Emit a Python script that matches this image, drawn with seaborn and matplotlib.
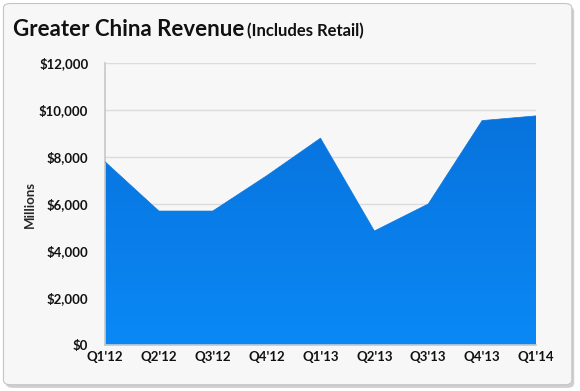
import numpy as np
import pandas as pd
import seaborn as sns
import matplotlib.pyplot as plt
from matplotlib.patches import FancyBboxPatch
from matplotlib.ticker import FuncFormatter
from matplotlib.colors import LinearSegmentedColormap

# chart data
quarters = ["Q1'12", "Q2'12", "Q3'12", "Q4'12", "Q1'13", "Q2'13", "Q3'13", "Q4'13", "Q1'14"]
revenue = [7800, 5700, 5700, 7200, 8800, 4850, 6000, 9550, 9750]
y_ticks = [0, 2000, 4000, 6000, 8000, 10000, 12000]

df = pd.DataFrame({'quarter': quarters, 'revenue': revenue, 'pos': range(len(quarters))})

sns.set_style('white')
plt.rcParams['font.family'] = ['Lato', 'DejaVu Sans']

fig = plt.figure(figsize=(5.8, 3.91), dpi=100)
fig.patch.set_facecolor('white')

# card with border and soft shadow
shadow = FancyBboxPatch((0.010, 0.008), 0.980, 0.975, boxstyle='round,pad=0,rounding_size=0.012',
                        transform=fig.transFigure, facecolor='#cfcfcf', edgecolor='none', zorder=-2)
card = FancyBboxPatch((0.006, 0.016), 0.980, 0.975, boxstyle='round,pad=0,rounding_size=0.012',
                      transform=fig.transFigure, facecolor='#f7f7f7', edgecolor='#c4c4c4',
                      linewidth=0.8, zorder=-1)
fig.patches.extend([shadow, card])

ax = fig.add_axes([105 / 580, 1 - 345 / 391, (536 - 105) / 580, (345 - 63) / 391])
ax.set_facecolor('none')

sns.lineplot(data=df, x='pos', y='revenue', ax=ax, color='#0a74dc', linewidth=0.5, zorder=3)
poly = ax.fill_between(df['pos'], df['revenue'], 0, color='none', linewidth=0)

# vertical gradient inside the area
grad = np.linspace(0, 1, 256).reshape(-1, 1)
cmap = LinearSegmentedColormap.from_list('blu', ['#0a89f6', '#0872dc'])
im = ax.imshow(grad, extent=[0, 8, 0, 10000], origin='lower', aspect='auto', cmap=cmap, zorder=2)
path = poly.get_paths()[0]
im.set_clip_path(path, transform=ax.transData)

ax.set_xlim(0, 8)
ax.set_ylim(0, 12000)
ax.set_yticks(y_ticks)
ax.yaxis.set_major_formatter(FuncFormatter(lambda v, p: f'${v:,.0f}'))
ax.set_xticks(df['pos'])
ax.set_xticklabels(quarters)
ax.grid(axis='y', color='#dcdcdc', linewidth=1, zorder=0)
ax.set_axisbelow(True)

for side in ['top', 'right']:
    ax.spines[side].set_visible(False)
for side in ['left', 'bottom']:
    ax.spines[side].set_color('#c8c8c8')
    ax.spines[side].set_linewidth(1.2)

ax.tick_params(axis='both', length=0, labelsize=9.5, colors='#111111')
ax.tick_params(axis='y', pad=12)
ax.tick_params(axis='x', pad=4)
for lbl in ax.get_xticklabels() + ax.get_yticklabels():
    lbl.set_fontweight('bold')

ax.set_xlabel('')
ax.set_ylabel('Millions', fontsize=9.5, fontweight='bold', labelpad=2)

fig.text(13 / 580, 1 - 30 / 391, 'Greater China Revenue', fontsize=16, fontweight='bold',
         va='center', ha='left', color='#111111')
fig.text(247 / 580, 1 - 31 / 391, '(Includes Retail)', fontsize=12, fontweight='bold',
         va='center', ha='left', color='#111111')

fig.savefig('out.png', dpi=100)
